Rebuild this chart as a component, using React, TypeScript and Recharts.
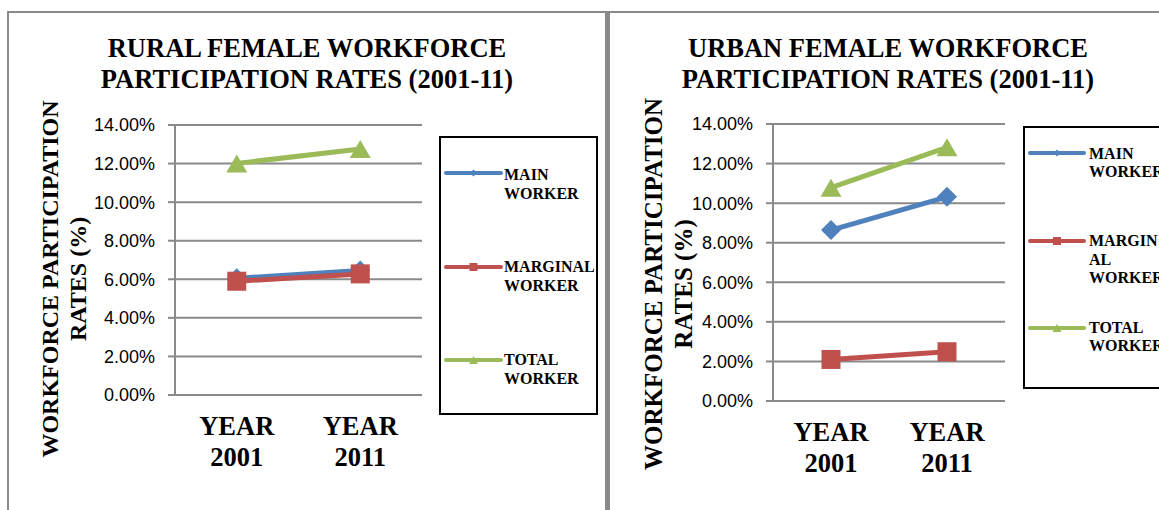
import React from "react";
import { LineChart, Line, XAxis, YAxis, CartesianGrid, Legend } from "recharts";

const categories = ["YEAR 2001", "YEAR 2011"];
const ruralMain = [0.0605, 0.0645];
const ruralMarginal = [0.059, 0.0628];
const ruralTotal = [0.1201, 0.1275];
const urbanMain = [0.0864, 0.1032];
const urbanMarginal = [0.021, 0.0249];
const urbanTotal = [0.1078, 0.1282];
const yTicks = [0, 0.02, 0.04, 0.06, 0.08, 0.1, 0.12, 0.14];
const seriesNames = ["MAIN WORKER", "MARGINAL WORKER", "TOTAL WORKER"];

const SERIF = '"Liberation Serif", "Times New Roman", serif';
const SANS = '"Liberation Sans", Arial, sans-serif';
const BLUE = "#4F81BD";
const RED = "#C0504D";
const GREEN = "#9BBB59";
const GRID = "#8a8a8a";

const buildRows = (main: number[], marginal: number[], total: number[]) =>
  categories.map((c, i) => ({ category: c, main: main[i], marginal: marginal[i], total: total[i] }));

const ruralRows = buildRows(ruralMain, ruralMarginal, ruralTotal);
const urbanRows = buildRows(urbanMain, urbanMarginal, urbanTotal);

const DiamondDot = (p: any) => {
  const { cx, cy, index } = p;
  if (cx == null || cy == null) return <g key={`d${index}`} />;
  return (
    <polygon
      key={`d${index}`}
      points={`${cx},${cy - 10} ${cx + 10},${cy} ${cx},${cy + 10} ${cx - 10},${cy}`}
      fill={BLUE}
    />
  );
};
const SquareDot = (p: any) => {
  const { cx, cy, index } = p;
  if (cx == null || cy == null) return <g key={`s${index}`} />;
  return <rect key={`s${index}`} x={cx - 9.5} y={cy - 9.5} width={19} height={19} fill={RED} />;
};
const TriangleDot = (p: any) => {
  const { cx, cy, index } = p;
  if (cx == null || cy == null) return <g key={`t${index}`} />;
  return (
    <polygon key={`t${index}`} points={`${cx},${cy - 9} ${cx + 10.5},${cy + 9} ${cx - 10.5},${cy + 9}`} fill={GREEN} />
  );
};

const XTick = (p: any) => {
  const { x, y, payload } = p;
  const parts = String(payload.value).split(" ");
  return (
    <text x={x} y={y} textAnchor="middle" fontFamily={SERIF} fontWeight={700} fontSize={26.5} fill="#000">
      <tspan x={x} dy={40}>{parts[0]}</tspan>
      <tspan x={x} dy={30.5}>{parts[1]}</tspan>
    </text>
  );
};

const pct = (v: number) => `${(v * 100).toFixed(2)}%`;

type LegendItem = { lines: string[]; lineY: number; baselines: number[] };

const LegendMarker = ({ kind, x, y, color }: { kind: number; x: number; y: number; color: string }) => {
  if (kind === 0)
    return <polygon points={`${x},${y - 3.5} ${x + 3.5},${y} ${x},${y + 3.5} ${x - 3.5},${y}`} fill={color} />;
  if (kind === 1) return <rect x={x - 4} y={y - 4} width={8} height={8} fill={color} />;
  return <polygon points={`${x},${y - 4} ${x + 4.5},${y + 4} ${x - 4.5},${y + 4}`} fill={color} />;
};

const makeLegend = (w: number, h: number, lineX1: number, lineX2: number, textX: number, items: LegendItem[]) =>
  (props: any) => {
    const payload = props.payload || [];
    return (
      <div
        style={{
          width: w,
          height: h,
          border: "2px solid #000",
          boxSizing: "border-box",
          background: "#fff",
        }}
      >
        <svg width={w} height={h} style={{ position: "absolute", left: 0, top: 0, overflow: "visible" }}>
          {payload.map((entry: any, i: number) => {
            const it = items[i];
            if (!it) return null;
            const color = entry.color;
            return (
              <g key={i}>
                <line
                  x1={lineX1}
                  x2={lineX2}
                  y1={it.lineY}
                  y2={it.lineY}
                  stroke={color}
                  strokeWidth={4}
                  strokeLinecap="round"
                />
                <LegendMarker kind={i} x={(lineX1 + lineX2) / 2} y={it.lineY} color={color} />
                {it.lines.map((t, j) => (
                  <text
                    key={j}
                    x={textX}
                    y={it.baselines[j]}
                    fontFamily={SERIF}
                    fontWeight={700}
                    fontSize={16}
                    fill="#000"
                  >
                    {t}
                  </text>
                ))}
              </g>
            );
          })}
        </svg>
      </div>
    );
  };

type PanelProps = {
  left: number;
  width: number;
  rows: any[];
  margin: { top: number; right: number; bottom: number; left: number };
  title: string[];
  titleX: number;
  axisTitle: { x1: number; x2: number; cy: number; size: number };
  legendPos: { left: number; top: number; width: number; height: number };
  legendRender: any;
};

const Panel = (p: PanelProps) => {
  const axisLabel = () => (
    <g>
      <text
        transform={`translate(${p.axisTitle.x1},${p.axisTitle.cy}) rotate(-90)`}
        textAnchor="middle"
        dominantBaseline="central"
        fontFamily={SERIF}
        fontWeight={700}
        fontSize={p.axisTitle.size}
        fill="#000"
      >
        WORKFORCE PARTICIPATION
      </text>
      <text
        transform={`translate(${p.axisTitle.x2},${p.axisTitle.cy}) rotate(-90)`}
        textAnchor="middle"
        dominantBaseline="central"
        fontFamily={SERIF}
        fontWeight={700}
        fontSize={p.axisTitle.size}
        fill="#000"
      >
        RATES (%)
      </text>
    </g>
  );
  return (
    <div style={{ position: "absolute", left: p.left, top: 0, width: p.width, height: 510 }}>
      <LineChart width={p.width} height={510} data={p.rows} margin={p.margin}>
        <CartesianGrid vertical={false} stroke={GRID} strokeWidth={2} />
        <XAxis
          dataKey="category"
          scale="band"
          axisLine={false}
          tickLine={false}
          tickSize={0}
          tickMargin={0}
          height={70}
          interval={0}
          tick={<XTick />}
        />
        <YAxis
          domain={[0, 0.14]}
          ticks={yTicks}
          tickFormatter={pct}
          width={60}
          axisLine={{ stroke: GRID, strokeWidth: 2 }}
          tickLine={{ stroke: GRID, strokeWidth: 2 }}
          tickSize={7}
          tickMargin={13}
          tick={{ fill: "#000", fontSize: 18, fontFamily: SANS }}
          label={axisLabel}
        />
        <Legend
          layout="vertical"
          align="center"
          verticalAlign="middle"
          wrapperStyle={{ ...p.legendPos }}
          content={p.legendRender}
        />
        <Line
          name={seriesNames[0]}
          dataKey="main"
          stroke={BLUE}
          strokeWidth={5}
          strokeLinejoin="round"
          dot={DiamondDot}
          activeDot={false}
          isAnimationActive={false}
        />
        <Line
          name={seriesNames[1]}
          dataKey="marginal"
          stroke={RED}
          strokeWidth={5}
          strokeLinejoin="round"
          dot={SquareDot}
          activeDot={false}
          isAnimationActive={false}
        />
        <Line
          name={seriesNames[2]}
          dataKey="total"
          stroke={GREEN}
          strokeWidth={5}
          strokeLinejoin="round"
          dot={TriangleDot}
          activeDot={false}
          isAnimationActive={false}
        />
      </LineChart>
      <svg
        width={p.width}
        height={100}
        style={{ position: "absolute", left: 0, top: 0, pointerEvents: "none" }}
      >
        {p.title.map((t, i) => (
          <text
            key={i}
            x={p.titleX}
            y={57 + i * 31}
            textAnchor="middle"
            fontFamily={SERIF}
            fontWeight={700}
            fontSize={26.5}
            fill="#000"
          >
            {t}
          </text>
        ))}
      </svg>
    </div>
  );
};

const ruralLegend = makeLegend(159, 279, 7, 62, 65, [
  { lines: ["MAIN", "WORKER"], lineY: 37, baselines: [44, 62.5] },
  { lines: ["MARGINAL", "WORKER"], lineY: 131, baselines: [136, 154.5] },
  { lines: ["TOTAL", "WORKER"], lineY: 224, baselines: [229, 247.5] },
]);

const urbanLegend = makeLegend(170, 263, 7, 61, 66, [
  { lines: ["MAIN", "WORKER"], lineY: 27, baselines: [33, 51] },
  { lines: ["MARGIN", "AL", "WORKER"], lineY: 115, baselines: [120, 138.5, 157] },
  { lines: ["TOTAL", "WORKER"], lineY: 202, baselines: [207, 225] },
]);

export default function App() {
  return (
    <div
      style={{
        position: "absolute",
        left: 0,
        top: 0,
        width: 1159,
        height: 510,
        overflow: "hidden",
        background: "#fff",
      }}
    >
      <div
        style={{
          position: "absolute",
          left: 7,
          top: 11,
          width: 1200,
          height: 520,
          borderTop: `2px solid ${GRID}`,
          borderLeft: `2px solid ${GRID}`,
        }}
      />
      <div style={{ position: "absolute", left: 605, top: 11, width: 5, height: 520, background: GRID }} />
      <Panel
        left={0}
        width={605}
        rows={ruralRows}
        margin={{ top: 125, right: 183, bottom: 45, left: 115 }}
        title={["RURAL FEMALE WORKFORCE", "PARTICIPATION RATES (2001-11)"]}
        titleX={307}
        axisTitle={{ x1: 50, x2: 78, cy: 279, size: 24 }}
        legendPos={{ left: 439, top: 136, width: 159, height: 279 }}
        legendRender={ruralLegend}
      />
      <Panel
        left={610}
        width={549}
        rows={urbanRows}
        margin={{ top: 124, right: 154, bottom: 39, left: 103 }}
        title={["URBAN FEMALE WORKFORCE", "PARTICIPATION RATES (2001-11)"]}
        titleX={278}
        axisTitle={{ x1: 43, x2: 73, cy: 284, size: 25 }}
        legendPos={{ left: 413, top: 126, width: 170, height: 263 }}
        legendRender={urbanLegend}
      />
    </div>
  );
}
